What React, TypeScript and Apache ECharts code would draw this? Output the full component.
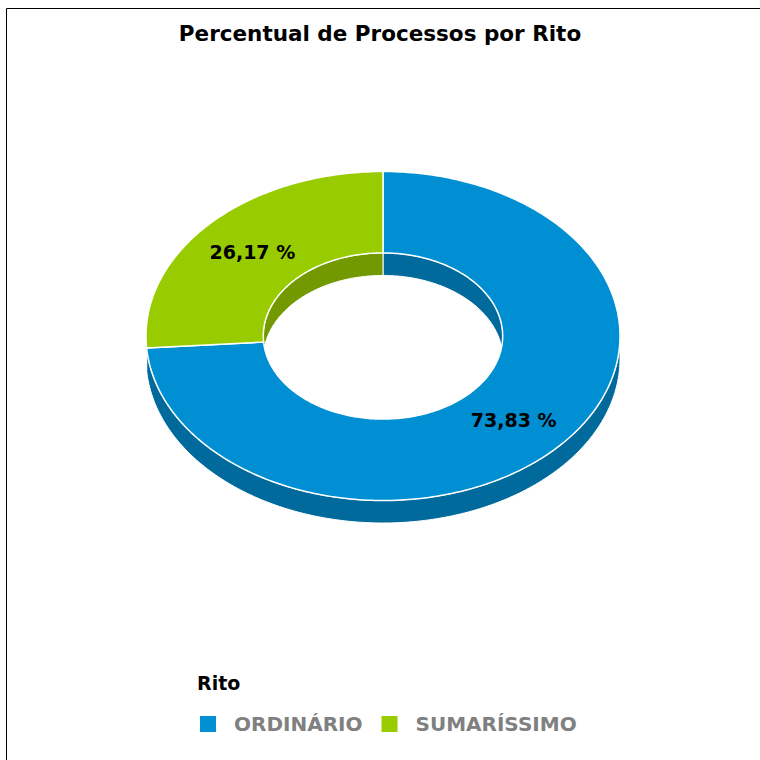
import React, { useEffect, useRef } from 'react';
import * as echarts from 'echarts';

const TITLE = 'Percentual de Processos por Rito';
const LEGEND_TITLE = 'Rito';
const CATEGORIES = ['ORDINÁRIO', 'SUMARÍSSIMO'];
const VALUES = [73.83, 26.17];
const COLORS = ['#008fd3', '#99cc00'];
const SIDE_COLORS = ['#006a9c', '#729900'];

const FONT = "'DejaVu Sans', sans-serif";

export default function App() {
  const ref = useRef<HTMLDivElement>(null);

  useEffect(() => {
    const chart = echarts.init(ref.current as HTMLDivElement, null, { renderer: 'svg' });

    const total = VALUES.reduce((a, b) => a + b, 0);
    const cum: number[] = [0];
    VALUES.forEach((v) => cum.push(cum[cum.length - 1] + v));

    const CX = 383, CY = 336, RX = 237, RY = 164.5, INNER = 0.505, D = 22.5;
    const rx = RX * INNER, ry = RY * INNER;

    const arc = (cx: number, cy: number, ax: number, ay: number, a0: number, a1: number) => {
      const n = Math.max(2, Math.ceil(Math.abs(a1 - a0)) + 1);
      const pts: number[][] = [];
      for (let i = 0; i < n; i++) {
        const a = ((a0 + ((a1 - a0) * i) / (n - 1)) * Math.PI) / 180;
        pts.push([cx + ax * Math.cos(a), cy - ay * Math.sin(a)]);
      }
      return pts;
    };

    const renderItem = (params: any, api: any) => {
      const i = params.dataIndex;
      const s = 90 - (360 * cum[i]) / total;
      const e = 90 - (360 * (cum[i] + api.value(0))) / total;
      const children: any[] = [];
      for (let k = -1; k <= 1; k++) {
        // outer wall (front, lower half)
        let lo = Math.max(e, -180 + 360 * k);
        let hi = Math.min(s, 360 * k);
        if (hi > lo) {
          const pts = arc(CX, CY, RX, RY, lo, hi).concat(arc(CX, CY + D, RX, RY, lo, hi).reverse());
          children.push({
            type: 'polygon', z2: 1,
            shape: { points: pts },
            style: { fill: SIDE_COLORS[i], stroke: '#ffffff', lineWidth: 1 },
          });
        }
        // inner wall (back, upper half of the hole)
        lo = Math.max(e, 360 * k);
        hi = Math.min(s, 180 + 360 * k);
        if (hi > lo) {
          const pts = arc(CX, CY, rx, ry, lo, hi).concat(arc(CX, CY + D, rx, ry, lo, hi).reverse());
          children.push({
            type: 'polygon', z2: 1,
            shape: { points: pts },
            style: { fill: SIDE_COLORS[i], stroke: '#ffffff', lineWidth: 1 },
          });
        }
      }
      const face = arc(CX, CY, RX, RY, s, e).concat(arc(CX, CY, rx, ry, e, s));
      children.push({
        type: 'polygon', z2: 10,
        shape: { points: face },
        style: { fill: COLORS[i], stroke: '#ffffff', lineWidth: 1.5 },
      });
      const mid = (((s + e) / 2) * Math.PI) / 180;
      const mr = (1 + INNER) / 2;
      children.push({
        type: 'text', z2: 20,
        x: CX + RX * mr * Math.cos(mid),
        y: CY - RY * mr * Math.sin(mid),
        style: {
          text: api.value(0).toFixed(2).replace('.', ',') + ' %',
          fill: '#000000',
          font: `bold 19px ${FONT}`,
          fontSize: 19,
          fontWeight: 'bold',
          fontFamily: FONT,
          align: 'center',
          verticalAlign: 'middle',
        },
      });
      return { type: 'group', children };
    };

    chart.setOption({
      animation: false,
      backgroundColor: '#ffffff',
      title: [
        {
          text: TITLE,
          left: 'center',
          top: 22,
          padding: 0,
          textStyle: { fontFamily: FONT, fontSize: 21.5, fontWeight: 'bold', color: '#000000' },
        },
        {
          text: LEGEND_TITLE,
          left: 197,
          top: 673,
          padding: 0,
          textStyle: { fontFamily: FONT, fontSize: 19, fontWeight: 'bold', color: '#000000' },
        },
      ],
      legend: {
        data: CATEGORIES,
        left: 200,
        top: 714,
        padding: 0,
        orient: 'horizontal',
        icon: 'rect',
        itemWidth: 16,
        itemHeight: 16,
        itemGap: 19,
        selectedMode: false,
        textStyle: {
          fontFamily: FONT,
          fontSize: 20,
          fontWeight: 'bold',
          color: '#808080',
          padding: [0, 0, 0, 13],
        },
      },
      graphic: [
        {
          type: 'polyline',
          silent: true,
          shape: { points: [[6.5, 760], [6.5, 8.5], [760, 8.5]] },
          style: { stroke: '#000000', lineWidth: 1, fill: 'none' },
        },
      ],
      series: [
        {
          type: 'pie',
          name: 'legend',
          silent: true,
          center: [-200, -200],
          radius: [0, 1],
          label: { show: false },
          labelLine: { show: false },
          data: CATEGORIES.map((name, i) => ({ name, value: VALUES[i], itemStyle: { color: COLORS[i] } })),
        },
        {
          type: 'custom',
          name: 'Rito',
          coordinateSystem: 'none',
          silent: true,
          renderItem,
          data: VALUES.map((v) => [v]),
        },
      ],
    });

    return () => chart.dispose();
  }, []);

  return (
    <div
      ref={ref}
      style={{ position: 'fixed', left: 0, top: 0, width: 760, height: 760, background: '#ffffff' }}
    />
  );
}
